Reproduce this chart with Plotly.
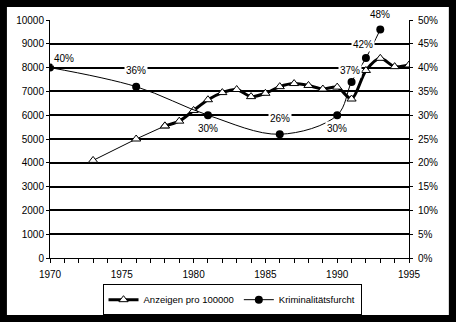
import plotly.graph_objects as go

# Reported offences per 100000 inhabitants (left axis)
anz_years = [1973, 1976, 1978, 1979, 1980, 1981, 1982, 1983, 1984, 1985,
             1986, 1987, 1988, 1989, 1990, 1991, 1992, 1993, 1994, 1995]
anz_values = [4100, 5000, 5550, 5750, 6200, 6650, 6950, 7080, 6780, 6920,
              7200, 7330, 7250, 7100, 7180, 6680, 7880, 8390, 8040, 8110]

# Fear of crime in percent (right axis)
furcht_years = [1970, 1976, 1981, 1986, 1990, 1991, 1992, 1993]
furcht_values = [40, 36, 30, 26, 30, 37, 42, 48]

x_ticks = [1970, 1975, 1980, 1985, 1990, 1995]

FONT = "Liberation Sans, Arial, sans-serif"

# index where the annual series starts (drawn as thick smoothed line)
annual_start = anz_years.index(1978)

fig = go.Figure()

# sparse early years: thin straight connections
fig.add_trace(go.Scatter(
    x=anz_years[:annual_start + 1], y=anz_values[:annual_start + 1],
    mode="lines+markers", showlegend=False,
    line=dict(color="black", width=1),
    marker=dict(symbol="triangle-up", size=8, color="white",
                line=dict(color="black", width=1)),
))

# annual values: thick smoothed line
fig.add_trace(go.Scatter(
    x=anz_years[annual_start:], y=anz_values[annual_start:],
    mode="lines+markers", name="Anzeigen pro 100000",
    line=dict(color="black", width=3, shape="spline", smoothing=0.8),
    marker=dict(symbol="triangle-up", size=8, color="white",
                line=dict(color="black", width=1)),
))

fig.add_trace(go.Scatter(
    x=furcht_years, y=furcht_values, yaxis="y2",
    mode="lines+markers", name="Kriminalitätsfurcht",
    line=dict(color="black", width=1, shape="spline", smoothing=1),
    marker=dict(symbol="circle", size=8, color="black"),
))

# value labels on the fear-of-crime points (x shift, y shift, anchor)
label_offsets = [(2, 9, "left"), (0, 16, "center"), (0, -13, "center"),
                 (0, 16, "center"), (0, -13, "center"), (-2, 11, "center"),
                 (-3, 14, "center"), (0, 15, "center")]
for yr, val, (dx, dy, anchor) in zip(furcht_years, furcht_values, label_offsets):
    fig.add_annotation(
        x=yr, y=val, xref="x", yref="y2", text=f"{val}%",
        showarrow=False, xanchor=anchor, yanchor="middle",
        xshift=dx, yshift=dy, bgcolor="white", borderpad=1,
        font=dict(family=FONT, size=10, color="black"),
    )

# white chart area inside the black frame
fig.add_shape(type="rect", xref="paper", yref="paper",
              x0=-0.12, x1=1.111, y0=-0.24, y1=1.055,
              fillcolor="white", line=dict(width=0), layer="below")

fig.update_layout(
    width=456, height=322,
    margin=dict(l=50, r=47, t=20, b=64, autoexpand=False),
    paper_bgcolor="black", plot_bgcolor="white",
    font=dict(family=FONT, size=10, color="black"),
    xaxis=dict(range=[1970, 1995], tickvals=x_ticks, ticks="outside",
               ticklen=4, tickcolor="black", showline=True, linecolor="black",
               linewidth=1, showgrid=False, zeroline=False,
               ticklabelstandoff=3,
               minor=dict(dtick=1, ticks="outside", ticklen=4,
                          tickcolor="black", showgrid=False)),
    yaxis=dict(range=[0, 10000], dtick=1000, tickformat="d",
               showgrid=True, gridcolor="black", gridwidth=2,
               showline=True, linecolor="black", linewidth=1,
               ticks="outside", ticklen=3, tickcolor="black", zeroline=False),
    yaxis2=dict(range=[0, 50], dtick=5, ticksuffix="%", overlaying="y",
                side="right", showgrid=False, showline=True,
                linecolor="black", linewidth=1, ticks="outside", ticklen=3,
                tickcolor="black", zeroline=False, ticklabelstandoff=3),
    legend=dict(orientation="h", x=0.507, xanchor="center", y=-0.11,
                yanchor="top", bgcolor="white", bordercolor="black",
                borderwidth=1, font=dict(size=9.5), itemwidth=30,
                tracegroupgap=0),
)

fig.write_html("out.html")
